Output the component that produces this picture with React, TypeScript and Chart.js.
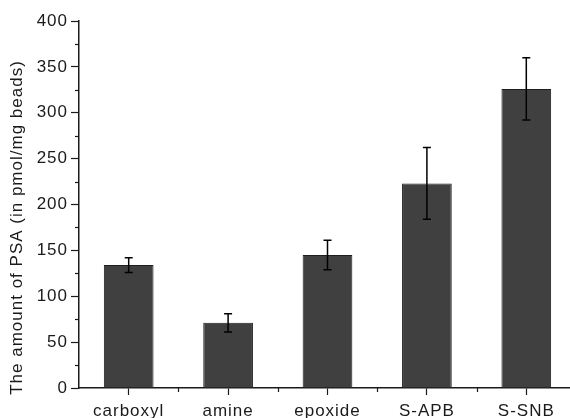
import React, { useEffect, useRef } from "react";
import { Chart, registerables } from "chart.js";

Chart.register(...registerables);

const categories = ["carboxyl", "amine", "epoxide", "S-APB", "S-SNB"];
const values = [134, 71, 145, 223, 326];
const errors = [8, 10, 16, 39, 34];
const yTitle = "The amount of PSA (in pmol/mg beads)";
const yMin = 0;
const yMax = 400;
const yStep = 50;

const FONT = '"Liberation Sans", Arial, Helvetica, sans-serif';
const INK = "#1a1a1a";

const spacingPlugin = {
  id: "spacing",
  beforeLayout(chart: any) {
    try { chart.ctx.letterSpacing = "1px"; } catch (e) {}
  },
  beforeDraw(chart: any) {
    try { chart.ctx.letterSpacing = "1px"; } catch (e) {}
  },
};

const extrasPlugin = {
  id: "extras",
  afterDatasetsDraw(chart: any) {
    const ctx = chart.ctx;
    const ys = chart.scales.y;
    const meta = chart.getDatasetMeta(0);
    ctx.save();
    ctx.strokeStyle = "#000";
    ctx.lineWidth = 1.5;
    meta.data.forEach((el: any, i: number) => {
      const x = el.x;
      const top = ys.getPixelForValue(values[i] + errors[i]);
      const bot = ys.getPixelForValue(values[i] - errors[i]);
      ctx.beginPath();
      ctx.moveTo(x, top);
      ctx.lineTo(x, bot);
      ctx.moveTo(x - 4, top);
      ctx.lineTo(x + 4, top);
      ctx.moveTo(x - 4, bot);
      ctx.lineTo(x + 4, bot);
      ctx.stroke();
    });
    ctx.restore();
  },
  afterDraw(chart: any) {
    const ctx = chart.ctx;
    const ys = chart.scales.y;
    const xs = chart.scales.x;
    const area = chart.chartArea;
    ctx.save();
    ctx.strokeStyle = INK;
    ctx.lineWidth = 1.2;
    for (let v = yMin + yStep / 2; v < yMax; v += yStep) {
      const y = Math.round(ys.getPixelForValue(v)) + 0.5;
      ctx.beginPath();
      ctx.moveTo(area.left - 4, y);
      ctx.lineTo(area.left, y);
      ctx.stroke();
    }
    for (let i = 0; i < categories.length - 1; i++) {
      const x = Math.round((xs.getPixelForValue(i) + xs.getPixelForValue(i + 1)) / 2) + 0.5;
      ctx.beginPath();
      ctx.moveTo(x, area.bottom);
      ctx.lineTo(x, area.bottom + 4);
      ctx.stroke();
    }
    ctx.fillStyle = INK;
    ctx.font = `17px ${FONT}`;
    ctx.textAlign = "center";
    ctx.textBaseline = "middle";
    ctx.translate(17, (area.top + area.bottom) / 2 + 23);
    ctx.rotate(-Math.PI / 2);
    ctx.fillText(yTitle, 0, 0);
    ctx.restore();
  },
};

export default function App() {
  const ref = useRef<HTMLCanvasElement | null>(null);
  useEffect(() => {
    if (!ref.current) return;
    const chart = new Chart(ref.current, {
      type: "bar",
      data: {
        labels: categories,
        datasets: [
          {
            data: values,
            backgroundColor: "#404040",
            borderColor: "#1e1e1e",
            borderWidth: 1,
            barPercentage: 0.5,
            categoryPercentage: 1.0,
          },
        ],
      },
      options: {
        responsive: false,
        animation: false,
        layout: { padding: { top: 21, left: 0, right: 4, bottom: 0 } },
        plugins: { legend: { display: false }, tooltip: { enabled: false } },
        scales: {
          x: {
            afterFit(scale: any) { scale.height = 30; },
            grid: {
              display: true,
              offset: false,
              drawOnChartArea: false,
              drawTicks: true,
              tickLength: 7,
              tickColor: INK,
              tickWidth: 1.2,
            },
            border: { display: true, color: INK, width: 1.5 },
            ticks: {
              color: INK,
              font: { family: FONT, size: 17 },
              padding: 6,
              maxRotation: 0,
              autoSkip: false,
            },
          },
          y: {
            min: yMin,
            max: yMax,
            afterFit(scale: any) { scale.width = 79; },
            grid: {
              display: true,
              drawOnChartArea: false,
              drawTicks: true,
              tickLength: 8,
              tickColor: INK,
              tickWidth: 1.2,
            },
            border: { display: true, color: INK, width: 1.5 },
            ticks: {
              stepSize: yStep,
              color: INK,
              font: { family: FONT, size: 17 },
              padding: 3,
            },
          },
        },
      },
      plugins: [spacingPlugin, extrasPlugin],
    });
    return () => chart.destroy();
  }, []);
  return (
    <div
      style={{
        position: "absolute",
        left: 0,
        top: 0,
        width: 570,
        height: 418,
        overflow: "hidden",
        background: "#fff",
      }}
    >
      <canvas ref={ref} width={580} height={418} style={{ display: "block", width: 580, height: 418 }} />
    </div>
  );
}
